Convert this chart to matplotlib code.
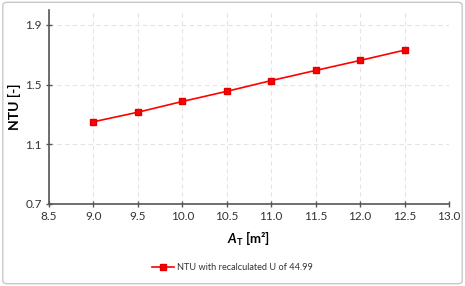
import matplotlib
matplotlib.use('Agg')
import matplotlib.pyplot as plt
from matplotlib.patches import FancyBboxPatch

plt.rcParams['font.family'] = ['Lato', 'DejaVu Sans']
plt.rcParams['mathtext.fontset'] = 'custom'
plt.rcParams['mathtext.it'] = 'Lato:italic:bold'
plt.rcParams['mathtext.rm'] = 'Lato:bold'
plt.rcParams['mathtext.bf'] = 'Lato:bold'

area = [9.0, 9.5, 10.0, 10.5, 11.0, 11.5, 12.0, 12.5]
ntu = [1.251, 1.315, 1.387, 1.455, 1.527, 1.595, 1.662, 1.731]
x_ticks = [8.5, 9.0, 9.5, 10.0, 10.5, 11.0, 11.5, 12.0, 12.5, 13.0]
y_ticks = [0.7, 1.1, 1.5, 1.9]
series_label = 'NTU with recalculated U of 44.99'

fig = plt.figure(figsize=(4.65, 2.86), dpi=100)
fig.patches.append(FancyBboxPatch((0.006, 0.008), 0.988, 0.984,
                                  boxstyle='round,pad=0,rounding_size=0.01',
                                  transform=fig.transFigure, facecolor='white',
                                  edgecolor='#c8c8c8', linewidth=1.0, zorder=-10))
ax = fig.add_axes([49 / 465, 1 - 204 / 286, 400 / 465, 194 / 286])
ax.set_facecolor('none')

ax.plot(area, ntu, color='#ff0000', linewidth=1.2, marker='s', markersize=5,
        markerfacecolor='#ff0000', markeredgecolor='#e00000', label=series_label)

ax.set_xlim(8.5, 13.0)
ax.set_ylim(0.7, 2.0)
ax.set_xticks(x_ticks)
ax.set_xticklabels([f'{v:.1f}' for v in x_ticks])
ax.set_yticks(y_ticks)
ax.set_yticklabels([f'{v:.1f}' for v in y_ticks])
ax.grid(True, color='#e4e4e4', linestyle=(0, (4, 3)), linewidth=0.8)
ax.set_axisbelow(True)

for side in ['top', 'right']:
    ax.spines[side].set_visible(False)
for side in ['left', 'bottom']:
    ax.spines[side].set_color('#555555')
    ax.spines[side].set_linewidth(1.2)
ax.tick_params(direction='inout', length=4, width=1, colors='#555555',
               labelcolor='#333333', labelsize=8.5, pad=3)

ax.set_ylabel('NTU [-]', fontsize=10, fontweight='bold', color='#000000', labelpad=3)
ax.set_xlabel(r'$A_\mathrm{T}$ [m²]', fontsize=9.5, fontweight='bold', color='#000000', labelpad=6)

fig.legend(loc='center', bbox_to_anchor=(0.5, 1 - 268 / 286), frameon=False,
           fontsize=6.6, handlelength=2.4, handletextpad=0.3, labelcolor='#333333')

fig.savefig('out.png', dpi=100)
